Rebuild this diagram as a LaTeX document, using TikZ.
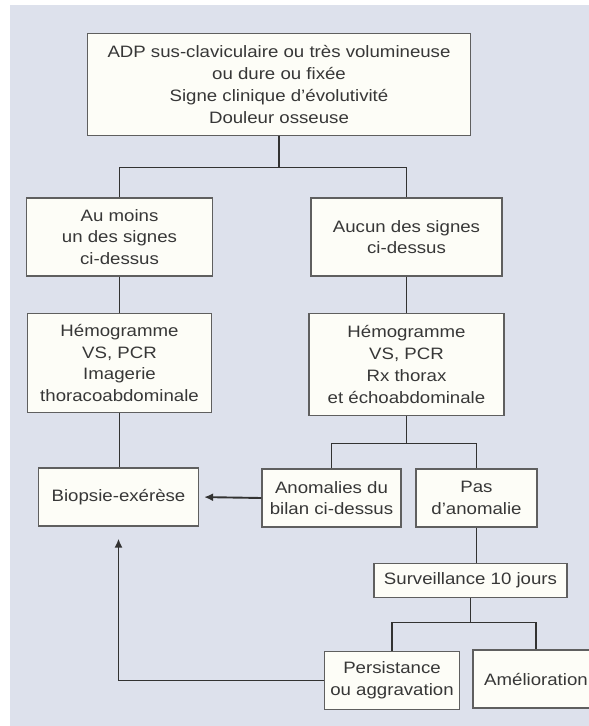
\documentclass[tikz,border=0pt]{standalone}
\usepackage{fontspec}
\setmainfont{Liberation Sans}[FakeStretch=1.13]
\usepackage{xcolor}
\usetikzlibrary{shapes,arrows.meta}

\definecolor{panel}{RGB}{221,225,236}
\definecolor{boxfill}{RGB}{253,253,247}
\definecolor{boxline}{RGB}{95,95,95}
\definecolor{linkline}{RGB}{50,50,50}
\definecolor{txt}{RGB}{55,55,55}

\tikzset{
  box/.style={draw=boxline, fill=boxfill, line width=1.2pt, align=center,
    inner sep=0pt, text=txt, font=\fontsize{16.5}{21.7}\selectfont},
  link/.style={draw=linkline, line width=1.9pt},
}

\begin{document}
\begin{tikzpicture}[x=1pt, y=-1pt, >={Latex[length=9pt,width=8pt]}]
     \fill [white] (0,0) rectangle (589,726);
     \fill [panel] (10,5) rectangle (589,726);
     \useasboundingbox (0,0) rectangle (589,726);
     % boxes
     \node [box, minimum width=383pt, minimum height=102pt] (top) at (279,84.5) {ADP sus-claviculaire ou très volumineuse\\ou dure ou fixée\\Signe clinique d'évolutivité\\Douleur osseuse};
     \node [box, minimum width=186pt, minimum height=78pt] (moins) at (119.5,237) {Au moins\\un des signes\\ci-dessus};
     \node [box, minimum width=191pt, minimum height=78pt] (aucun) at (406.5,237) {Aucun des signes\\ci-dessus};
     \node [box, minimum width=184pt, minimum height=99pt] (hemoL) at (119.5,363) {Hémogramme\\VS, PCR\\Imagerie\\thoracoabdominale};
     \node [box, minimum width=195pt, minimum height=102pt] (hemoR) at (406.5,364.5) {Hémogramme\\VS, PCR\\Rx thorax\\et échoabdominale};
     \node [box, minimum width=160pt, minimum height=58pt] (biopsie) at (118.5,497) {Biopsie-exérèse};
     \node [box, minimum width=139pt, minimum height=58pt] (anom) at (331.5,498) {Anomalies du\\bilan ci-dessus};
     \node [box, minimum width=121pt, minimum height=58pt] (pas) at (476.5,498) {Pas\\d'anomalie};
     \node [box, minimum width=193pt, minimum height=34pt] (surv) at (470.5,580.3) {Surveillance 10 jours};
     \node [box, minimum width=135pt, minimum height=58pt] (pers) at (392,680.5) {Persistance\\ou aggravation};
     \node [box, minimum width=126pt, minimum height=58pt] (amel) at (536,679) {Amélioration};
     % branch points
     \coordinate (s1) at (277.5,167.5);
     \coordinate (s2) at (408.5,443.5);
     \coordinate (s3) at (471.5,622.5);
     % connectors
     \draw [link] (top.south) -- (top.south |- s1);
     \draw [link] (moins.north) |- (s1) -| (aucun.north);
     \draw [link] (moins.south) -- (hemoL.north);
     \draw [link] (aucun.south) -- (hemoR.north);
     \draw [link] (hemoL.south) -- (hemoL.south |- biopsie.north);
     \draw [link] (hemoR.south) -- (hemoR.south |- s2);
     \draw [link] (anom.north) |- (s2) -| (pas.north);
     \draw [link, ->, shorten >=5pt] (anom.west) -- (biopsie.east);
     \draw [link] (pas.south) -- (pas.south |- surv.north);
     \draw [link] (surv.south) -- (surv.south |- s3);
     \draw [link] (pers.north) |- (s3) -| (amel.north);
     \draw [link, ->, shorten >=12pt] (pers.west) -| (biopsie.south);
 \end{tikzpicture}
\end{document}
